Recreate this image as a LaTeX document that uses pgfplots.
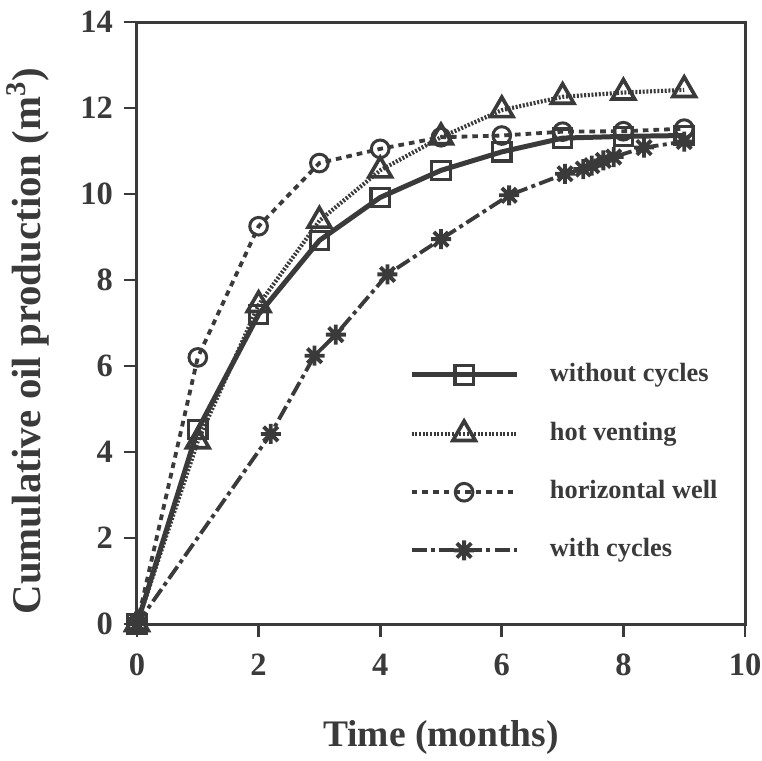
\documentclass[border=0pt]{standalone}
\usepackage{pgfplots}
\pgfplotsset{compat=1.18}
\usepackage{fontspec}
\setmainfont{Liberation Serif}

\definecolor{ink}{RGB}{58,58,58}

% eight-armed star used for the "with cycles" series
\pgfdeclareplotmark{star8}{%
  \pgfpathmoveto{\pgfqpoint{0pt}{\pgfplotmarksize}}%
  \pgfpathlineto{\pgfqpoint{0pt}{-\pgfplotmarksize}}%
  \pgfpathmoveto{\pgfqpoint{\pgfplotmarksize}{0pt}}%
  \pgfpathlineto{\pgfqpoint{-\pgfplotmarksize}{0pt}}%
  \pgfpathmoveto{\pgfqpoint{0.72\pgfplotmarksize}{0.72\pgfplotmarksize}}%
  \pgfpathlineto{\pgfqpoint{-0.72\pgfplotmarksize}{-0.72\pgfplotmarksize}}%
  \pgfpathmoveto{\pgfqpoint{0.72\pgfplotmarksize}{-0.72\pgfplotmarksize}}%
  \pgfpathlineto{\pgfqpoint{-0.72\pgfplotmarksize}{0.72\pgfplotmarksize}}%
  \pgfusepathqstroke}

\begin{document}
\begin{tikzpicture}
% fixed page frame around the axis box (axis box south west corner at the origin)
\path[use as bounding box] (-82.2pt,-81.6pt) rectangle (375pt,374.4pt);
\begin{axis}[
  at={(0pt,0pt)}, anchor=south west,
  scale only axis,
  width=364.8pt, height=361.2pt,
  xmin=0, xmax=10, ymin=0, ymax=14,
  xtick={0,2,...,10}, ytick={0,2,...,14},
  xtick pos=bottom, ytick pos=left,
  tick align=outside,
  major tick length=7.8pt,
  tick style={line width=1.6pt, color=ink},
  axis line style={line width=1.8pt, color=ink},
  clip=false,
  /pgf/number format/assume math mode=true,
  xticklabel style={font=\fontsize{19.5}{22}\selectfont\bfseries, text=ink,
                    anchor=center, inner sep=0pt, yshift=-16.6pt},
  yticklabel style={font=\fontsize{19.5}{22}\selectfont\bfseries, text=ink,
                    anchor=east, inner sep=0pt, xshift=-6.4pt},
  xlabel={Time (months)},
  ylabel={Cumulative oil production (m\textsuperscript{3})},
  xlabel style={font=\fontsize{22.5}{26}\selectfont\bfseries, text=ink,
                at={(axis description cs:0.5,0)}, anchor=base, inner sep=0pt,
                yshift=-73.6pt},
  ylabel style={font=\fontsize{24.5}{28}\selectfont\bfseries, text=ink,
                at={(axis description cs:0,0.47)}, anchor=center, inner sep=0pt,
                yshift=65.4pt},
  reverse legend,
  legend image code/.code={
    \draw[mark repeat=2, mark phase=2, #1]
      plot coordinates {(0pt,0pt) (31.5pt,0pt) (63pt,0pt)};},
  legend style={draw=none, fill=none, inner sep=0pt,
    at={(axis cs:4.47,6.08)}, anchor=north west,
    font=\fontsize{15.8}{18}\selectfont\bfseries, text=ink,
    nodes={inner sep=0pt, text height=11pt, text depth=3.5pt},
    row sep=20.4pt, column sep=18.5pt,
    legend cell align=left},
]

% with cycles
\addplot[ink, line width=2.3pt, dash pattern=on 9pt off 2.6pt on 2.4pt off 2.6pt,
  mark=star8, mark size=6pt,
  mark options={solid, line width=2.3pt}]
  coordinates {
  (0,0) (2.2,4.42) (2.92,6.24) (3.27,6.73) (4.12,8.13) (5.0,8.95)
  (6.12,9.97) (7.04,10.47) (7.34,10.58) (7.48,10.66) (7.67,10.78)
  (7.84,10.86) (8.34,11.08) (9.0,11.22)};
\addlegendentry{with cycles}

% horizontal well
\addplot[ink, line width=2.3pt, dash pattern=on 3.4pt off 3pt,
  mark=o, mark size=5.3pt,
  mark options={solid, line width=1.8pt, fill=white}]
  coordinates {
  (0,0) (1,6.2) (2,9.25) (3,10.72) (4,11.05) (5,11.32)
  (6,11.36) (7,11.45) (8,11.46) (9,11.52)};
\addlegendentry{horizontal well}

% hot venting
\addplot[ink, line width=2.5pt, dash pattern=on 1.2pt off 1.0pt,
  mark=triangle, mark size=7.8pt,
  mark options={solid, line width=2.2pt, fill=white}]
  coordinates {
  (0,0) (1,4.25) (2,7.42) (3,9.38) (4,10.55) (5,11.32)
  (6,11.95) (7,12.26) (8,12.36) (9,12.42)};
\addlegendentry{hot venting}

% without cycles
\addplot[ink, line width=3pt, solid,
  mark=square, mark size=5.5pt,
  mark options={solid, line width=1.9pt, fill=white}]
  coordinates {
  (0,0) (1,4.52) (2,7.2) (3,8.92) (4,9.92) (5,10.55)
  (6,10.98) (7,11.3) (8,11.34) (9,11.36)};
\addlegendentry{without cycles}

\end{axis}
\end{tikzpicture}
\end{document}
